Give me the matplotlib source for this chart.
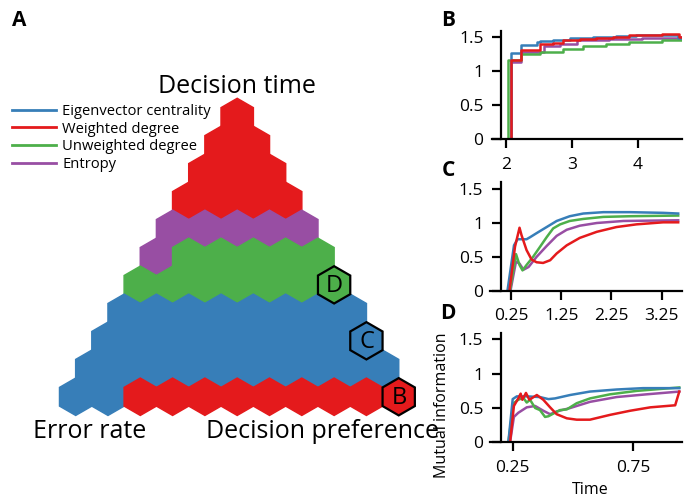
import numpy as np
import matplotlib
matplotlib.use("Agg")
import matplotlib.pyplot as plt
from matplotlib.patches import RegularPolygon
from matplotlib.lines import Line2D

plt.rcParams['font.family'] = ['Open Sans', 'DejaVu Sans']

# colours / names of the four measures
measure_names = ['Eigenvector centrality', 'Weighted degree', 'Unweighted degree', 'Entropy']
measure_codes = ['C', 'W', 'U', 'E']
measure_colors = ['#377eb8', '#e41a1c', '#4daf4a', '#984ea3']

# winning measure per hexagon, row by row from the top corner (Decision time)
hex_rows = [
    "W",
    "WW",
    "WWW",
    "WWWW",
    "EEEEE",
    "EUUUUU",
    "UUUUUUU",
    "CCCCCCCC",
    "CCCCCCCCC",
    "CCCCCCCCCC",
    "CCWWWWWWWWW",
]
# hexagons picked out for the panels on the right: (row, column) -> label
hex_marked = {(10, 10): 'B', (8, 8): 'C', (6, 6): 'D'}

# panel B (steps)
b_x = {
    'C': [2.00, 2.07, 2.22, 2.47, 2.52, 2.72, 2.97, 3.32, 3.67, 3.97, 4.22, 4.62, 4.66],
    'W': [2.00, 2.08, 2.22, 2.52, 2.72, 2.87, 3.12, 3.37, 3.62, 3.87, 4.12, 4.37, 4.63, 4.66],
    'U': [2.00, 2.03, 2.22, 2.52, 2.87, 3.17, 3.52, 3.87, 4.37, 4.66],
    'E': [2.00, 2.08, 2.22, 2.57, 2.82, 3.07, 3.57, 4.07, 4.66],
}
b_y = {
    'C': [0, 1.27, 1.38, 1.42, 1.44, 1.46, 1.48, 1.50, 1.51, 1.52, 1.52, 1.49, 1.49],
    'W': [0, 1.16, 1.31, 1.39, 1.41, 1.45, 1.47, 1.49, 1.50, 1.52, 1.53, 1.54, 1.50, 1.50],
    'U': [0, 1.16, 1.25, 1.28, 1.32, 1.36, 1.39, 1.42, 1.45, 1.45],
    'E': [0, 1.13, 1.28, 1.36, 1.40, 1.45, 1.47, 1.49, 1.50],
}

# panel C
c_x = {
    'C': [0.18, 0.31, 0.38, 0.56, 0.63, 0.76, 0.96, 1.16, 1.42, 1.69, 2.09, 2.62, 3.28, 3.58],
    'W': [0.22, 0.33, 0.42, 0.46, 0.56, 0.66, 0.76, 0.89, 1.03, 1.16, 1.36, 1.62, 1.96, 2.35, 2.75, 3.28, 3.58],
    'U': [0.23, 0.35, 0.42, 0.48, 0.56, 0.69, 0.83, 0.96, 1.09, 1.23, 1.42, 1.69, 2.09, 2.62, 3.58],
    'E': [0.24, 0.35, 0.42, 0.50, 0.60, 0.76, 0.96, 1.16, 1.36, 1.62, 1.96, 2.49, 3.58],
}
c_y = {
    'C': [0, 0.67, 0.76, 0.76, 0.79, 0.85, 0.94, 1.03, 1.10, 1.14, 1.16, 1.16, 1.15, 1.14],
    'W': [0, 0.65, 0.93, 0.82, 0.60, 0.46, 0.42, 0.41, 0.45, 0.55, 0.67, 0.78, 0.87, 0.94, 0.98, 1.01, 1.01],
    'U': [0, 0.54, 0.38, 0.30, 0.38, 0.50, 0.65, 0.79, 0.92, 0.98, 1.03, 1.06, 1.09, 1.10, 1.11],
    'E': [0, 0.43, 0.40, 0.31, 0.35, 0.50, 0.66, 0.81, 0.90, 0.96, 1.00, 1.03, 1.04],
}

# panel D
d_x = {
    'C': [0.232, 0.250, 0.267, 0.308, 0.363, 0.398, 0.425, 0.488, 0.57, 0.68, 0.79, 0.94],
    'W': [0.239, 0.255, 0.273, 0.283, 0.290, 0.305, 0.319, 0.350, 0.377, 0.405, 0.432, 0.474,
          0.515, 0.57, 0.653, 0.736, 0.82, 0.923, 0.94],
    'U': [0.232, 0.253, 0.273, 0.294, 0.308, 0.322, 0.343, 0.363, 0.384, 0.398, 0.419, 0.446,
          0.474, 0.515, 0.57, 0.653, 0.764, 0.94],
    'E': [0.239, 0.255, 0.273, 0.308, 0.343, 0.377, 0.405, 0.432, 0.488, 0.57, 0.68, 0.805, 0.94],
}
d_y = {
    'C': [0, 0.63, 0.67, 0.67, 0.66, 0.63, 0.64, 0.69, 0.74, 0.77, 0.79, 0.79],
    'W': [0, 0.53, 0.64, 0.71, 0.62, 0.72, 0.62, 0.69, 0.62, 0.51, 0.41, 0.35,
          0.33, 0.33, 0.40, 0.46, 0.51, 0.54, 0.74],
    'U': [0, 0.57, 0.62, 0.65, 0.58, 0.62, 0.50, 0.47, 0.37, 0.38, 0.42, 0.47,
          0.48, 0.57, 0.64, 0.70, 0.75, 0.80],
    'E': [0, 0.37, 0.43, 0.51, 0.53, 0.46, 0.41, 0.45, 0.50, 0.59, 0.66, 0.70, 0.74],
}

yticks = [0, 0.5, 1, 1.5]
ytick_labels = ['0', '0.5', '1', '1.5']

W, H = 684, 498
fig = plt.figure(figsize=(W / 100, H / 100), dpi=100)


# triangle of hexagons (whole figure axes, 1 unit = hex radius)
s = 18.65                # px per hex radius
top_x, top_y = 237.2, 117.0
ax = fig.add_axes([0, 0, 1, 1])
ax.set_xlim(-top_x / s, (W - top_x) / s)
ax.set_ylim(-(H - top_y) / s, top_y / s)
ax.axis('off')

col_of = dict(zip(measure_codes, measure_colors))
for k, row in enumerate(hex_rows):
    for j, code in enumerate(row):
        if (k, j) in hex_marked:
            continue
        cx = np.sqrt(3) * (j - k / 2)
        cy = -1.5 * k
        c = col_of[code]
        ax.add_patch(RegularPolygon((cx, cy), 6, radius=1, facecolor=c,
                                    edgecolor=c, lw=1.1))
for (k, j), lab in hex_marked.items():
    cx = np.sqrt(3) * (j - k / 2)
    cy = -1.5 * k
    c = col_of[hex_rows[k][j]]
    ax.add_patch(RegularPolygon((cx, cy), 6, radius=1, facecolor=c,
                                edgecolor='black', lw=1.6, zorder=3))
    ax.text(cx + 0.02, cy - 0.05, lab, ha='center', va='center', fontsize=17, zorder=4)

fig.text(237 / W, 1 - 92.7 / H, 'Decision time', ha='center', va='baseline', fontsize=18)
fig.text(90 / W, 1 - 437.7 / H, 'Error rate', ha='center', va='baseline', fontsize=18)
fig.text(323 / W, 1 - 437.7 / H, 'Decision preference', ha='center', va='baseline', fontsize=18)

handles = [Line2D([], [], color=c, lw=2) for c in measure_colors]
fig.legend(handles, measure_names, loc='upper left', bbox_to_anchor=(12 / W, 1 - 104 / H),
           frameon=False, fontsize=10.6, handlelength=3.0, handletextpad=0.4,
           labelspacing=0.18, borderpad=0, borderaxespad=0)

# panel letters
for lab, (px, py) in {'A': (19, 20), 'B': (448, 21), 'C': (448, 170), 'D': (448, 313)}.items():
    fig.text(px / W, 1 - py / H, lab, ha='center', va='center', fontsize=15, fontweight='bold')


def line_panel(rect, xs, ys, xlim, ylim, spine_x, xticks, xticklabels, steps=False):
    a = fig.add_axes(rect)
    for code in ['E', 'U', 'C', 'W']:
        a.plot(xs[code], ys[code], color=col_of[code], lw=1.8,
               drawstyle='steps-post' if steps else 'default', solid_joinstyle='round')
    a.set_xlim(*xlim)
    a.set_ylim(*ylim)
    a.spines['top'].set_visible(False)
    a.spines['right'].set_visible(False)
    a.spines['left'].set_position(('data', spine_x))
    a.spines['left'].set_bounds(0, ylim[1])
    for sp in ['left', 'bottom']:
        a.spines[sp].set_linewidth(1.6)
    a.set_xticks(xticks)
    a.set_xticklabels(xticklabels)
    a.set_yticks(yticks)
    a.set_yticklabels(ytick_labels)
    a.tick_params(direction='out', length=6.5, width=1.6, labelsize=12.5, pad=6)
    a.patch.set_alpha(0)
    return a


def rect_px(left, right, top, bottom):
    return [left / W, 1 - bottom / H, (right - left) / W, (bottom - top) / H]


line_panel(rect_px(491.7, 681.7, 30.7, 139.3), b_x, b_y, (1.78, 4.67), (0, 1.59), 1.92,
           [2, 3, 4], ['2', '3', '4'], steps=True)
line_panel(rect_px(490, 681.7, 181.7, 290.7), c_x, c_y, (-0.168, 3.65), (0, 1.61), 0.044,
           [0.25, 1.25, 2.25, 3.25], ['0.25', '1.25', '2.25', '3.25'])
line_panel(rect_px(490, 681.7, 333.3, 442.3), d_x, d_y, (0.156, 0.95), (0, 1.59), 0.200,
           [0.25, 0.75], ['0.25', '0.75'])

fig.text(442 / W, 1 - 405 / H, 'Mutual information', rotation=90, ha='center', va='center', fontsize=11.5)
fig.text(590 / W, 1 - 490 / H, 'Time', ha='center', va='center', fontsize=11.5)

fig.savefig('out.png', dpi=100)
